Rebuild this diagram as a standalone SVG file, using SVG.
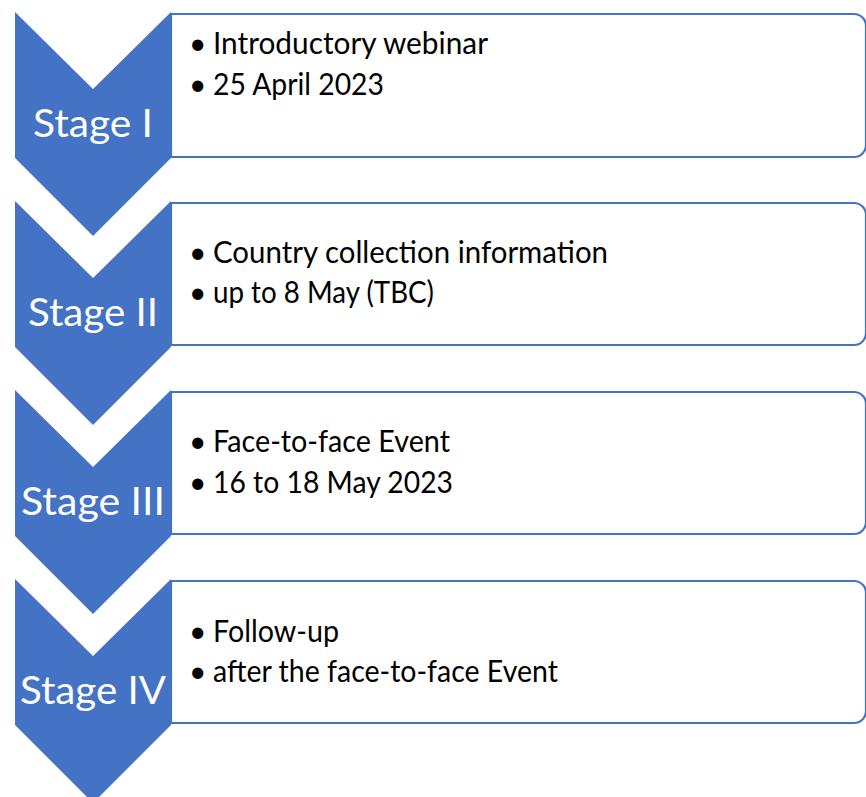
<svg xmlns="http://www.w3.org/2000/svg" width="866" height="797" viewBox="0 0 866 797">
<style>
.box{fill:#ffffff;stroke:#4472C4;stroke-width:2.2}
.chev{fill:#4472C4}
.stage{font-family:Lato,"Liberation Sans",sans-serif;font-size:38px;fill:#ffffff;text-anchor:middle}
.item{font-family:Lato,"Liberation Sans",sans-serif;font-size:30px;fill:#000000}
.bul{font-family:Lato,"Liberation Sans",sans-serif;font-size:30px;fill:#000000}
</style>
<rect width="866" height="797" fill="#ffffff"/>
<g id="stage1">
<path class="box" d="M171,14 H854 A12,12 0 0 1 866,26 V145 A12,12 0 0 1 854,157 H171 Z"/>
<polygon class="chev" points="15,12 93,89 171,12 171,158 93,236 15,158"/>
<text class="stage" x="93" y="137" textLength="120" lengthAdjust="spacingAndGlyphs">Stage I</text>
<text class="bul" x="189" y="54">•</text>
<text class="item" x="213" y="54" textLength="275" lengthAdjust="spacingAndGlyphs">Introductory webinar</text>
<text class="bul" x="189" y="95">•</text>
<text class="item" x="213" y="95" textLength="171" lengthAdjust="spacingAndGlyphs">25 April 2023</text>
</g>
<g id="stage2">
<path class="box" d="M171,203 H854 A12,12 0 0 1 866,215 V333 A12,12 0 0 1 854,345 H171 Z"/>
<polygon class="chev" points="15,201 93,278 171,201 171,347 93,425 15,347"/>
<text class="stage" x="93" y="326" textLength="130" lengthAdjust="spacingAndGlyphs">Stage II</text>
<text class="bul" x="189" y="263">•</text>
<text class="item" x="213" y="263" textLength="395" lengthAdjust="spacingAndGlyphs">Country collection information</text>
<text class="bul" x="189" y="303">•</text>
<text class="item" x="213" y="303" textLength="221" lengthAdjust="spacingAndGlyphs">up to 8 May (TBC)</text>
</g>
<g id="stage3">
<path class="box" d="M171,392 H854 A12,12 0 0 1 866,404 V522 A12,12 0 0 1 854,534 H171 Z"/>
<polygon class="chev" points="15,390 93,467 171,390 171,536 93,614 15,536"/>
<text class="stage" x="93" y="515" textLength="144" lengthAdjust="spacingAndGlyphs">Stage III</text>
<text class="bul" x="189" y="452">•</text>
<text class="item" x="213" y="452" textLength="237" lengthAdjust="spacingAndGlyphs">Face-to-face Event</text>
<text class="bul" x="189" y="493">•</text>
<text class="item" x="213" y="493" textLength="240" lengthAdjust="spacingAndGlyphs">16 to 18 May 2023</text>
</g>
<g id="stage4">
<path class="box" d="M171,581 H854 A12,12 0 0 1 866,593 V711 A12,12 0 0 1 854,723 H171 Z"/>
<polygon class="chev" points="15,579 93,656 171,579 171,725 93,803 15,725"/>
<text class="stage" x="93" y="704" textLength="146" lengthAdjust="spacingAndGlyphs">Stage IV</text>
<text class="bul" x="189" y="642">•</text>
<text class="item" x="213" y="642" textLength="126" lengthAdjust="spacingAndGlyphs">Follow-up</text>
<text class="bul" x="189" y="682">•</text>
<text class="item" x="213" y="682" textLength="345" lengthAdjust="spacingAndGlyphs">after the face-to-face Event</text>
</g>
</svg>
